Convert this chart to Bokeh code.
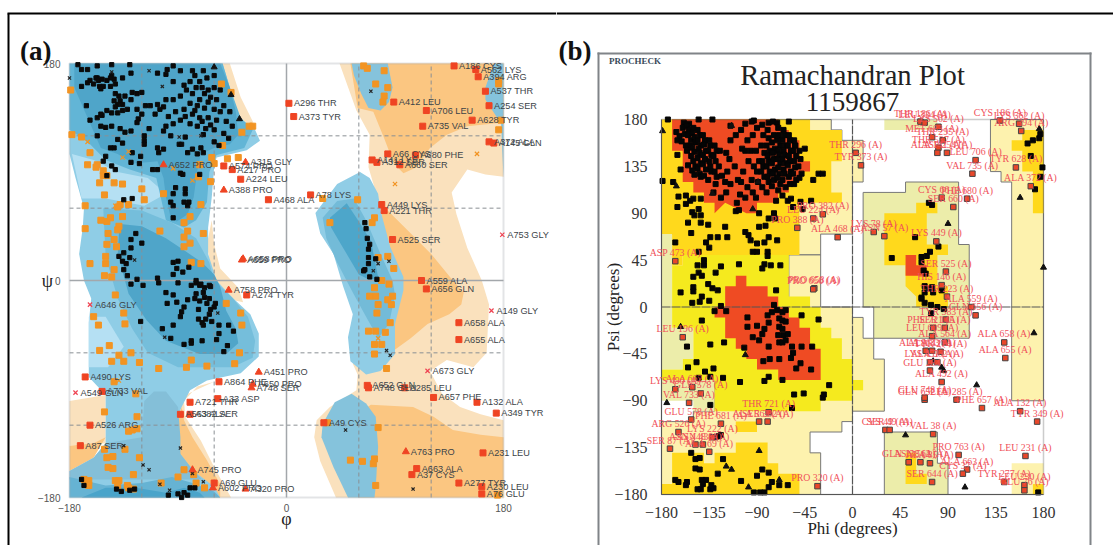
from bokeh.plotting import figure
from bokeh.layouts import row
from bokeh.models import ColumnDataSource, LabelSet, Label, BoxAnnotation, FixedTicker, LinearAxis
from bokeh.core.properties import value
from bokeh.embed import file_html
from bokeh.resources import INLINE

# ---------- PANEL (a): contour regions, phi/psi pairs ----------
A_TAN_LIGHT_RIGHT = [(44,180),(180,180),(180,86),(165,88),(150,92),(137,73),(141,55),(150,27),(162,0),(168,-20),(166,-60),(155,-72),(133,-66),(119,-75),(129,-94),(144,-105),(161,-111),(180,-116),(180,-180),(41,-180),(28,-150),(23,-130),(25,-116),(36,-105),(58,-91),(59,-78),(55,-69),(58,-60),(70,0),(78,60),(68,94),(69,121),(58,141)]
A_TAN_DARK_TOP = [(53,180),(180,180),(180,131),(170,130),(150,128),(133,121),(119,110),(108,94),(97,89),(89,97),(81,118),(72,140),(59,143)]
A_TAN_DARK_MID = [(80,62),(100,42),(120,22),(138,0),(147,-10),(145,-20),(135,-28),(117,-36),(103,-48),(89,-58),(75,-40),(75,20)]
A_TAN_DARK_LOW = [(70,-103),(105,-105),(122,-113),(138,-124),(161,-128),(180,-130),(180,-180),(60,-180),(60,-110)]
A_TAN_TONGUE = [(-55,180),(-47,180),(-38,152),(-27,130),(-40,125),(-50,150)]
A_TAN_STRIP = [(-66,30),(-62,50),(-60,30),(-55,10),(-40,-6),(-36,-18),(-50,-15),(-63,10)]
A_TAN_LEFT_LIGHT = [(-180,-100),(-150,-95),(-150,-135),(-180,-137)]
A_TAN_LEFT_DARK = [(-180,-137),(-160,-135),(-150,-130),(-160,-147),(-180,-158)]
A_TAN_BOTTOM_LIGHT = [(-60,-84),(-74,-88),(-85,-100),(-84,-113),(-71,-133),(-60,-155),(-46,-180),(-60,-180),(-90,-140),(-95,-100)]
A_TAN_BOTTOM_DARK = [(-87,-105),(-85,-116),(-78,-130),(-66,-149),(-55,-169),(-55,-180),(-70,-180),(-95,-140)]
A_BLUE_ENVELOPE = [(-180,180),(-53,180),(-47,160),(-40,135),(-27,127),(-22,116),(-33,108),(-58,102),(-60,94),(-62,69),(-65,44),(-65,22),(-58,0),(-45,-14),(-30,-28),(-23,-44),(-23,-63),(-38,-77),(-66,-83),(-80,-91),(-87,-105),(-94,-122),(-88,-144),(-77,-158),(-60,-171),(-55,-180),(-180,-180),(-180,-158),(-160,-147),(-150,-135),(-150,-95),(-164,-80),(-164,-35),(-162,-15),(-168,0),(-172,22),(-169,44),(-168,60),(-175,85),(-180,105)]
A_BLUE_PALE_TOP = [(-178,105),(-160,100),(-140,90),(-115,85),(-100,72),(-118,62),(-150,68),(-170,68)]
A_BLUE_PALE_LOW = [(-164,-30),(-150,-30),(-135,-55),(-148,-72),(-164,-72)]
A_BLUE_GREY = [(-118,-100),(-110,-92),(-100,-92),(-90,-105),(-88,-130),(-88,-144),(-77,-158),(-70,-165),(-180,-165),(-180,-158),(-160,-147),(-150,-135),(-120,-130)]
A_BLUE_RING_TOP = [(-180,180),(-53,180),(-47,160),(-38,135),(-28,125),(-35,110),(-58,104),(-64,90),(-66,65),(-75,50),(-85,44),(-100,50),(-108,85),(-130,92),(-150,100),(-165,115),(-180,125)]
A_BLUE_CORE_TOP = [(-176,180),(-55,180),(-47,160),(-42,140),(-40,121),(-47,113),(-60,110),(-71,105),(-74,91),(-77,69),(-82,55),(-91,49),(-96,52),(-100,69),(-102,85),(-107,99),(-127,97),(-140,105),(-154,110),(-165,135),(-176,160)]
A_BLUE_RING_MID = [(-152,60),(-120,58),(-95,48),(-75,35),(-64,15),(-60,0),(-45,-14),(-32,-30),(-26,-50),(-28,-64),(-45,-72),(-90,-72),(-115,-60),(-128,-40),(-140,-15),(-150,20)]
A_BLUE_CORE_MID = [(-140,47),(-120,45),(-100,35),(-85,25),(-70,15),(-60,5),(-55,-5),(-50,-25),(-42,-40),(-40,-52),(-50,-61),(-72,-61),(-100,-50),(-116,-33),(-131,-11),(-140,22),(-139,39)]
A_BLUE_BOTTOM_RING = [(-180,-163),(-150,-170),(-120,-168),(-95,-163),(-78,-168),(-60,-175),(-55,-180),(-180,-180)]
A_BLUE_BOTTOM_CORE = [(-170,-180),(-150,-172),(-125,-172),(-100,-176),(-85,-172),(-72,-176),(-68,-180)]
A_RBLUE_TOP = [(54,180),(84,180),(88,160),(85,148),(78,141),(68,143),(62,155),(56,170)]
A_RBLUE_STRIP = [(172,180),(180,180),(180,85),(178,130),(165,150),(165,160)]
A_RBLUE_LOBE = [(24,56),(42,80),(61,90),(69,85),(76,72),(78,58),(86,28),(97,3),(97,-8),(90,-36),(90,-61),(78,-75),(66,-78),(53,-67),(51,-47),(55,-28),(47,-5),(39,22),(28,39)]
A_RBLUE_LOBE_RING = [(30,52),(42,66),(56,68),(66,50),(78,22),(88,0),(90,-12),(85,-36),(76,-48),(66,-30),(55,-10),(42,15),(33,35)]
A_RBLUE_LOBE_CORE = [(36,52),(50,64),(60,49),(70,33),(76,3),(70,0),(60,5),(47,27),(37,44)]
A_RBLUE_LOW = [(30,-119),(40,-101),(54,-94),(66,-102),(74,-113),(76,-138),(74,-171),(73,-180),(51,-180),(39,-155),(29,-130)]

A_BLACK = [(-173,179),(-170,175),(-165,175),(-157,178),(-145,179),(-130,179),(-157,168),(-145,170),(-129,172),(-136,168),(-165,164),(-163,166),(-158,168),(-156,166),(-153,167),(-149,166),(-146,168),(-143,167),(-160,163),(-155,161),(-152,161),(-146,161),(-142,163),(-170,161),(-166,145),(-154,159),(-128,156),(-124,155),(-120,156),(-142,155),(-139,153),(-134,153),(-129,150),(-138,149),(-143,149),(-140,146),(-136,146),(-142,144),(-145,139),(-149,141),(-153,137),(-157,135),(-154,138),(-163,133),(-140,139),(-136,141),(-132,142),(-124,142),(-120,138),(-123,134),(-117,145),(-113,145),(-107,146),(-102,144),(-105,142),(-109,138),
(-154,128),(-150,127),(-145,128),(-138,126),(-134,123),(-129,124),(-124,131),(-114,126),(-118,120),(-118,116),(-118,113),(-140,117),(-136,114),(-146,110),(-143,110),(-128,106),(-121,103),(-150,103),(-152,99),(-145,95),(-142,92),(-129,98),(-122,97),(-157,120),(-107,110),(-102,109),(-106,106),(-102,124),(-96,120),(-89,113),(-87,113),(-82,106),(-78,109),(-71,110),(-69,106),(-74,105),(-60,115),(-69,121),(-56,112),(-84,119),
(-99,175),(-94,178),(-100,171),(-107,172),(-88,174),(-78,174),(-69,174),(-66,168),(-60,170),(-80,165),(-72,165),(-94,165),(-85,162),(-75,160),(-60,160),(-55,158),(-65,158),(-68,155),(-78,155),(-88,153),(-94,150),(-100,150),(-72,150),(-65,148),(-58,150),(-80,147),(-74,145),(-68,143),(-60,142),(-52,145),(-47,140),(-85,142),(-92,140),(-98,136),(-78,138),(-72,135),(-65,135),(-58,133),(-50,132),(-45,128),(-88,133),(-80,130),(-74,128),(-67,126),(-60,125),(-52,122),(-48,118),(-94,130),(-100,128),(-76,170),(-83,158),(-70,160),(-63,152),(-76,141),(-70,132),(-63,129),(-84,136),(-55,140),
(65,48),(66,43),(67,35),(69,30),(68,26),(68,19),(68,14),(74,18),(65,9),(64,8),(69,3),(75,1),
(-129,-3),(-119,-4),(-106,-2),(-90,-2),(-100,-10),(-94,-12),(-99,-19),(-91,-18),(-85,-22),(-82,-16),(-87,-26),(-88,-30),(-94,-37),(-103,-40),(-96,-48),(-85,-53),(-79,-50),(-79,-52),(-70,-50),(-58,-49),(-49,-54),(-52,-59),(-56,-44),(-56,-37),(-48,-37),(-44,-42),(-121,-34),(-79,-4),(-75,-2),(-72,-4),(-68,-6),(-63,-5),(-75,-11),(-76,-15),(-72,-17),(-68,-14),(-64,-15),(-69,-10),(-66,-19),(-59,-19),(-60,-22),(-63,-24),(-73,-24),(-64,-28),(-73,-32),(-70,-35),(-67,-32),(-62,-34),(-69,-37),
(-129,34),(-125,39),(-129,27),(-120,31),(-135,23),(-139,20),(-130,19),(-136,16),(-133,14),(-135,9),(-132,4),(-124,1),(-107,2),(-94,15),(-90,16),(-91,10),(-86,7),(-81,11),(-94,5),(-75,0),(-71,-3),(-64,-4),
(-135,67),(-128,68),(-111,92),(-107,92),(-88,89),(-86,88),(-92,77),(-84,76),(-84,72),(-94,72),(-96,65),(-94,62),(-85,65),(-81,65),(-82,62),(-94,52),(-72,88),(-149,87),
(-170,-165),(-168,-170),(-141,-173),(-137,-175),(-130,-174),(-126,-173),(-98,-178),(-90,-177),(-85,-176),(-87,-180),(-82,-178),(-80,-172),(-76,-172)]
A_ORANGE = [(-179,158),(-54,163),(-46,156),(-178,121),(-170,119),(-37,123),(-31,128),(-28,128),(-163,106),(-165,96),(-157,96),(-158,94),(-152,91),(-152,87),(-149,87),(-155,81),(-143,81),(-136,80),(-120,76),(-151,71),(-118,67),(-102,72),(-167,62),(-138,63),(-140,61),(-131,63),(-136,53),(-154,50),(-149,49),(-146,52),(-139,45),(-140,42),(-167,43),(-148,39),(-143,34),(-149,30),(-141,28),(-150,20),(-163,14),(-150,14),(-143,9),(-151,4),(-145,3),(-85,48),(-80,53),(-105,41),(-82,41),(-85,36),(-69,39),(-80,31),(-85,28),(-79,15),(-71,14),(-71,63),(-63,82),(-73,86),(-72,96),(-60,97),(-62,102),(-49,101),(-40,102),(-53,112),
(-142,-12),(-160,-30),(-156,-37),(-135,-27),(-134,-36),(-155,-58),(-147,-54),(-139,-62),(-129,-60),(-145,-67),(-135,-67),(-122,-68),(-106,-73),(-83,-72),(-66,-71),(-79,-66),(-43,-69),(-39,-60),(-50,-19),(-38,-27),(-37,-37),(-125,-94),(-143,-84),(-151,-109),(-124,-113),(-131,-125),(-128,-124),(-124,-123),(-151,-140),(-149,-147),(-144,-146),(-148,-155),(-144,-156),(-134,-140),(-122,-147),(-127,-161),(-168,-165),(-164,-166),(-164,-170),(-142,-166),(-139,-166),(-140,-170),(-132,-170),(-127,-173),(-131,-172),(-90,-163),(-85,-157),(-77,-161),(-68,-172),(-75,-168),(-104,-168),
(64,178),(67,176),(81,174),(74,163),(84,160),(81,153),(80,148),(176,166),(176,163),(178,133),(176,125),(30,68),(59,67),(73,52),(71,48),(36,48),(76,19),(84,20),(89,10),(79,0),(85,-3),(73,-6),(69,-13),(74,-13),(88,-13),(84,-16),(87,-20),(76,-20),(75,-27),(86,-35),(68,-42),(74,-42),(82,-43),(73,-53),(79,-53),(73,-61),(83,-73),(76,-122),(34,-118),(53,-149),(63,-150),(73,-148),(72,-152),(74,-170),(175,-178)]
A_ORANGE_X = [(-165,115),(-131,107),(-136,102),(-94,93),(-78,83),(-142,62),(158,105),(90,80),(76,-48),(-139,-83)]
A_BLACK_X = [(-180,168),(-145,173),(-114,174),(-103,161),(-89,119),(-71,120),(-126,17),(70,157),(76,14),(85,16),(72,8),(-57,-27),(-101,-47),(-135,-137),(-88,-139),(-119,-153),(-114,-157),(-78,-160),(-69,-167),(-105,-169),(-97,-174),(49,-124),(83,-58),(86,-62),(105,-173)]
A_BLACK_TRI = [(-60,177),(-46,154),(-39,134)]
A_RED_SQ_NAMES = ["A186 CYS","A562 LYS","A394 ARG","A537 THR","A254 SER","A628 TYR","A735 VAL","A706 LEU","A412 LEU","A296 THR","A373 TYR","A372 ALA","A145 GLN","A66 CYS","A680 PHE","A141 LYS","A312 SER","A660 SER","A78 LYS","A449 LYS","A221 THR","A525 SER","A559 ALA","A656 GLN","A658 ALA","A655 ALA","A652 GLN","A748 GLU","A285 LEU","A657 PHE","A132 ALA","A349 TYR","A49 CYS","A231 LEU","A663 ALA","A37 CYS","A277 TYR","A230 LEU","A76 GLU","A574 PRO","A217 PRO","A224 LEU","A468 ALA","A274 TYR","A864 PHE","A33 ASP","A721 THR","A563 ALA","A382 SER","A490 LYS","A733 VAL","A526 ARG","A87 SER","A69 GLU"]
A_RED_SQ = [(139,178),(157,175),(159,169),(165,157),(168,145),(154,133),(113,128),(116,141),(89,148),(2,147),(6,136),(168,115),(172,114),(84,105),(107,104),(71,100),(75,98),(94,96),(20,71),(79,63),(81,58),(88,34),(112,0),(116,-7),(143,-35),(143,-49),(67,-87),(68,-89),(98,-89),(122,-97),(158,-101),(174,-110),(31,-118),(163,-143),(108,-156),(104,-161),(143,-168),(162,-171),(162,-177),(-52,95),(-45,92),(-38,84),(-15,67),(-33,-12),(-56,-84),(-57,-98),(-80,-101),(-88,-111),(-80,-111),(-167,-80),(-153,-92),(-163,-120),(-171,-137),(-60,-168)]
A_RED_TRI_NAMES = ["A652 PRO","A315 GLY","A388 PRO","A659 PRO","A658 PRO","A758 PRO","A451 PRO","A650 PRO","A748 SER","A745 PRO","A602 PRO","A320 PRO","A763 PRO"]
A_RED_TRI = [(-102,96),(-34,98),(-52,75),(-37,17),(-36,18),(-48,-8),(-23,-76),(-28,-86),(-29,-89),(-78,-157),(-61,-172),(-34,-173),(99,-142)]
A_RED_X_NAMES = ["A753 GLY","A149 GLY","A673 GLY","A646 GLY","A549 GLN"]
A_RED_X = [(179,38),(170,-25),(117,-75),(-163,-20),(-175,-93)]

# ---------- PANEL (b): region outlines ----------
B_CREAM_TOP = [(-40,180),(-20,180),(-20,170),(-10,170),(-10,160),(10,160),(10,120),(0,120),(0,70),(-30,70),(-30,50),(-60,50),(-60,70),(-170,70),(-170,180)]
B_CREAM_RIGHT = [(130,180),(180,180),(180,-90),(150,-90),(150,120),(140,120),(140,130),(130,130)]
B_CREAM_BR = [(150,-150),(180,-150),(180,-180),(150,-180)]
B_CREAM_LEFT = [(-180,70),(-170,70),(-170,-20),(-150,-20),(-150,-50),(-160,-50),(-160,-60),(-180,-60)]
B_CREAM_ALPHA = [(-60,50),(-30,50),(-30,0),(0,0),(0,-10),(10,-10),(10,-30),(20,-30),(20,-50),(30,-50),(30,-100),(0,-100),(0,-110),(-10,-110),(-10,-120),(-40,-120),(-40,-140),(-30,-140),(-30,-180),(-180,-180),(-180,-110),(-150,-110),(-150,-100),(-130,-100),(-130,-60),(-60,0)]
B_CREAM_NOTCH = [(-180,-70),(-130,-70),(-130,-100),(-150,-100),(-150,-90),(-180,-90)]
B_CREAM_L = [(10,110),(50,110),(50,120),(100,120),(100,60),(110,60),(110,-30),(20,-30),(20,0),(10,0)]
B_CREAM_P = [(30,-120),(80,-120),(80,-150),(90,-150),(90,-180),(30,-180)]
B_CREAM_TOPL = [(30,180),(80,180),(80,170),(30,170)]
B_GOLD_TOP = [(-180,180),(-40,180),(-40,170),(-10,170),(-10,140),(-20,140),(-20,110),(-10,110),(-10,100),(-50,100),(-50,50),(-160,50),(-160,40),(-170,40),(-170,70),(-180,70)]
B_YELLOW = [(-30,0),(-30,-20),(-20,-20),(-20,-30),(-10,-30),(-10,-50),(0,-50),(0,-70),(10,-70),(10,-80),(0,-80),(0,-90),(-30,-90),(-30,-100),(-130,-100),(-130,-70),(-180,-70),(-180,-60),(-160,-60),(-160,-50),(-150,-50),(-150,-20),(-170,-20),(-170,40),(-160,40),(-160,50),(-60,50),(-60,10),(-40,10),(-40,0)]
B_GOLD_LOW = [(-170,-140),(-140,-140),(-140,-150),(-130,-150),(-130,-140),(-110,-140),(-110,-130),(-80,-130),(-80,-150),(-70,-150),(-70,-160),(-50,-160),(-50,-180),(-180,-180),(-180,-170),(-170,-170)]
B_GOLD_SMALL = [(-110,-110),(-90,-110),(-90,-120),(-110,-120)]
B_GOLD_L = [(30,90),(60,90),(60,100),(80,100),(80,90),(70,90),(70,60),(90,60),(90,50),(80,50),(80,20),(90,20),(90,0),(60,0),(60,10),(50,20),(50,40),(30,40)]
B_GOLD_P = [(50,-140),(60,-140),(60,-160),(70,-160),(70,-170),(50,-170)]
B_GOLD_RIGHT = [(160,170),(180,170),(180,90),(170,90),(170,130),(160,130),(160,150),(150,150),(150,160),(160,160)]
B_GOLD_BR = [(170,-170),(180,-170),(180,-180),(170,-180)]
B_RED_TOP = [(-170,180),(-70,180),(-70,170),(-60,170),(-60,160),(-50,160),(-50,140),(-40,140),(-40,130),(-50,130),(-50,120),(-60,120),(-60,110),(-70,110),(-70,100),(-90,100),(-90,90),(-100,90),(-120,100),(-130,90),(-130,100),(-140,100),(-140,110),(-150,110),(-150,120),(-160,120),(-160,150),(-170,150)]
B_RED_A = [(-120,20),(-110,20),(-110,30),(-100,30),(-100,20),(-80,20),(-80,10),(-70,10),(-70,0),(-60,0),(-60,-10),(-50,-10),(-50,-20),(-40,-20),(-40,-40),(-30,-40),(-30,-70),(-70,-70),(-70,-60),(-90,-60),(-90,-50),(-100,-50),(-100,-40),(-110,-40),(-110,-30),(-120,-30),(-120,-10),(-130,-10),(-130,0),(-120,0)]
B_RED_L = [(50,30),(70,30),(70,40),(60,40),(60,50),(50,50)]

B_BLACK = [(-174,180),(-159,177),(-154,176),(-145,180),(-132,180),(-115,174),(-101,176),(-93,179),(-79,177),(-71,177),(-60,178),
(-166,168),(-163,164),(-165,160),(-160,172),(-158,166),(-161,159),(-157,155),(-156,174),(-154,170),(-155,165),(-152,160),(-153,155),(-156,150),(-155,136),
(-150,172),(-151,167),(-149,163),(-148,158),(-151,153),(-149,149),(-152,145),(-150,140),(-148,135),(-151,131),(-149,127),
(-146,170),(-144,165),(-146,160),(-143,155),(-145,152),(-144,148),(-146,143),(-143,138),(-146,133),(-144,128),(-143,125),
(-141,165),(-139,160),(-140,156),(-138,150),(-141,146),(-139,142),(-141,137),(-138,132),(-140,126),
(-135,160),(-134,155),(-136,150),(-133,146),(-135,140),(-134,135),(-133,130),(-136,122),
(-130,155),(-128,150),(-131,145),(-129,140),(-130,130),(-128,125),(-129,118),(-131,110),
(-125,150),(-126,135),(-123,126),(-124,105),
(-119,148),(-118,130),(-120,120),(-119,110),
(-115,160),(-116,142),(-115,118),
(-110,165),(-111,135),(-108,122),(-109,100),
(-105,170),(-104,152),(-103,130),(-105,120),(-106,108),
(-99,160),(-101,150),(-98,140),(-99,115),(-101,105),
(-95,178),(-94,165),(-96,150),(-93,135),(-95,122),(-94,110),
(-90,172),(-91,150),(-88,140),(-90,130),(-89,120),(-91,105),
(-85,175),(-84,165),(-86,155),(-83,148),(-85,140),(-84,135),(-86,130),(-83,125),(-85,115),
(-80,170),(-79,162),(-81,155),(-78,150),(-80,145),(-79,140),(-81,135),(-78,130),(-80,125),(-79,120),(-81,110),
(-75,178),(-74,165),(-76,158),(-73,152),(-75,148),(-74,142),(-76,138),(-73,132),(-75,128),(-74,122),(-76,116),
(-70,172),(-69,165),(-71,160),(-68,155),(-70,150),(-69,146),(-71,142),(-68,138),(-70,134),(-69,128),(-71,124),(-68,118),(-70,112),
(-65,170),(-64,165),(-66,160),(-63,155),(-65,150),(-64,146),(-66,142),(-63,138),(-65,132),(-64,128),(-66,122),(-63,115),
(-60,165),(-59,160),(-61,155),(-58,150),(-60,145),(-59,140),(-61,136),(-58,130),(-60,125),(-59,118),
(-55,160),(-54,155),(-56,150),(-53,145),(-55,140),(-54,134),(-56,128),(-53,122),(-55,118),
(-50,150),(-49,142),(-51,135),(-48,128),(-50,124),
(-167,62),(-165,146),(-179,121),(-169,120),(-162,132),(-164,106),(-157,107),(-165,96),(-157,99),(-153,102),(-150,104),(-143,104),(-145,94),(-151,91),(-149,88),(-143,88),(-155,81),(-143,81),(-136,79),(-152,71),(-120,77),(-110,92),(-107,93),(-88,90),(-79,85),(-74,90),(-73,85),(-88,77),(-82,78),(-101,72),(-98,69),(-96,64),(-90,61),(-83,62),(-79,67),(-71,64),(-134,67),(-138,62),(-127,67),(-118,67),(-90,53),(-80,53),(-94,53),(-145,53),(-135,57),(-140,45),(-140,40),(-80,49),(-83,41),(-85,37),(-77,40),(-68,40),(-146,40),(-145,33),(-142,30),(-129,33),(-124,39),(-150,29),(-107,41),(-136,22),(-132,18),(-127,16),(-150,19),(-150,15),(-72,16),(-61,102),(-49,101),(-39,102),(-32,128),(-28,128),(-37,122),(-45,152),(-54,155),(-58,104),(-56,96),(-47,94),(-66,107),(-72,102),
(165,157),(170,160),(176,162),(177,166),(168,145),(179,134),(177,125),(172,113),(72,100),(75,98),(37,47),(59,67),(81,58),(73,53),(70,49),(65,48),(65,43),(67,35),(69,32),(68,20),(68,14),(75,19),(76,14),(84,16),(65,8),(65,9),(68,4),(74,2),(80,0),(86,-2),(74,-6),(175,-178),(53,-149),
(-142,-13),(-156,-38),(-134,-36),(-121,-34),(-147,-53),(-155,-58),(-139,-62),(-131,-59),(-134,-67),(-122,-68),(-145,-68),(-106,-72),(-83,-71),(-79,-67),(-66,-70),(-55,-84),(-46,-83),(-28,-87),(-27,-84),(-22,-75),(-134,-94),(-57,-97),(-124,-123),(-129,-125),(-126,-124),(-152,-140),(-148,-146),(-144,-145),(-148,-155),(-144,-156),(-122,-146),(-127,-160),(-167,-166),(-164,-168),(-156,-168),(-157,-171),(-142,-166),(-138,-166),(-141,-170),(-146,-175),(-143,-175),(-134,-175),(-131,-174),(-133,-171),(-105,-167),(-90,-162),(-85,-156),(-79,-159),(-93,-178),(-87,-178),(-83,-178),(-79,-173),(-76,-168),(-69,-171),(-61,-171),(-162,14),(-151,4),(-144,5),(-142,10),(-135,6),(-130,-4),(-124,1),(-119,-4),
(-99,-10),(-99,-19),(-90,-18),(-94,-29),(-85,-26),(-88,-32),(-83,-21),(-79,-15),(-74,2),(-71,-3),(-66,-5),(-63,-3),(-69,-11),(-66,-13),(-63,-14),(-69,-19),(-66,-21),(-70,-27),(-65,-27),(-61,-26),(-69,-34),(-66,-34),(-63,-32),(-76,-5),(-80,-8),(-48,-8),(-32,-12),(-57,-38),(-48,-38),(-38,-38),(-56,-44),(-79,-38),(-102,-39),(-84,-52),(-78,-50),(-69,-50),(-58,-49),(-49,-54),(-53,-59),(-39,-60)]
B_TRI = [(-162,-19),(-175,-92),(-101,-46),(-88,-138),(-119,-153),(-114,-156),(-98,-173),(-69,-166),(-179,169),(-166,116),(-114,174),(-89,120),(-132,109),(-94,94),(176,171),(90,80),(158,105),(180,38),(72,17),(171,-25),(84,-58),(86,-61),(117,-75),(50,-123),(106,-173),(76,-52)]
B_RED_NAMES = ["ASP 473 (A)","LEU 224 (A)","PRO 382 (A)","PRO 388 (A)","ALA 468 (A)","PRO 658 (A)","PRO 650 (A)","THR 296 (A)","TYR 373 (A)","THR 186 (A)","LEU 334 (A)","LYS 562 (A)","MET 683 (A)","THR 295 (A)","THR 537 (A)","ALA 141 (A)","ASP 254 (A)","CYS 186 (A)","LYS 562 (A)","ARG 394 (A)","LEU 706 (A)","VAL 735 (A)","TYR 628 (A)","ALA 372 (A)","CYS 66 (A)","PHE 680 (A)","SER 660 (A)","LYS 78 (A)","ASN 57 (A)","LYS 449 (A)","SER 525 (A)","HIS 146 (A)","THR 223 (A)","ALA 559 (A)","GLN 656 (A)","ALA 658 (A)","ALA 655 (A)","TYR 383 (A)","SER 145 (A)","PHE 721 (A)","LEU 609 (A)","ALA 564 (A)","ALA 864 (A)","ALA 33 (A)","TYR 274 (A)","LYS 451 (A)","ALA 562 (A)","GLU 284 (A)","ALA 492 (A)","GLN 652 (A)","GLU 748 (A)","LEU 285 (A)","PHE 657 (A)","ALA 132 (A)","TYR 349 (A)","CYS 49 (A)","SER 49 (A)","VAL 38 (A)","PRO 763 (A)","LEU 231 (A)","ALA 663 (A)","CYS 37 (A)","SER 644 (A)","TYR 277 (A)","LEU 230 (A)","GLU 76 (A)","GLN 138 (A)","ASN 562 (A)","ALA 85 (A)","LEU 196 (A)","ALA 662 (A)","LYS 490 (A)","GLN 578 (A)","VAL 733 (A)","THR 721 (A)","ALA 563 (A)","SER 382 (A)","GLU 578 (A)","PHE 681 (A)","ARG 526 (A)","LYS 222 (A)","SER 87 (A)","ASN 448 (A)","ASN 438 (A)","ALA 69 (A)","PRO 320 (A)"]
B_RED = [(-167,44),(-37,85),(-28,89),(-52,76),(-14,67),(-36,18),(-37,17),(3,148),(8,136),(64,178),(68,177),(81,173),(75,163),(85,160),(81,153),(80,148),(89,148),(139,179),(157,176),(159,169),(116,141),(113,128),(154,134),(168,116),(84,105),(108,104),(95,96),(20,72),(30,68),(79,63),(88,34),(84,21),(89,10),(112,0),(116,-8),(143,-34),(144,-49),(88,-12),(87,-20),(76,-20),(75,-28),(87,-34),(69,-42),(75,-42),(83,-43),(73,-53),(80,-53),(73,-61),(84,-72),(68,-89),(68,-87),(98,-89),(122,-97),(158,-100),(174,-110),(31,-118),(35,-118),(76,-122),(100,-142),(163,-143),(108,-156),(104,-160),(75,-168),(143,-168),(162,-171),(162,-176),(53,-149),(64,-149),(73,-150),(-160,-29),(-151,-77),(-167,-79),(-143,-83),(-154,-92),(-79,-101),(-88,-110),(-80,-110),(-152,-108),(-124,-112),(-164,-120),(-132,-125),(-172,-136),(-148,-132),(-141,-132),(-135,-139),(-33,-172)]
A_TICKS = [-180, 0, 180]
A_GRID = [-120, -60, 60, 120]
ZERO_LINE = [0]
B_TICKS = [-180, -135, -90, -45, 0, 45, 90, 135, 180]

SANS = "Liberation Sans"
SERIF = "Liberation Serif"
W_A, W_B, H = 556, 557, 545

def xs(points): return [q[0] for q in points]
def ys(points): return [q[1] for q in points]

def ranges(left, right, top, bottom, w):
    """Data ranges so that -180..180 falls on the wanted pixels of a full-canvas frame."""
    sx = 360 / (right - left)
    sy = 360 / (bottom - top)
    return (-180 - left * sx, 180 + (w - right) * sx), (-180 - (H - bottom) * sy, 180 + top * sy)

def make_fig(w, left, right, top, bottom):
    xr, yr = ranges(left, right, top, bottom, w)
    p = figure(width=w, height=H, x_range=xr, y_range=yr, output_backend="svg", toolbar_location=None,
               x_axis_type=None, y_axis_type=None, min_border=0,
               min_border_left=0, min_border_right=0, min_border_top=0, min_border_bottom=0)
    p.outline_line_color = None
    p.grid.visible = False
    return p

def style_axis(ax, ticks, font, size, color, lab_size, lab_color, standoff):
    ax.ticker = FixedTicker(ticks=ticks)
    ax.bounds = (-180, 180)
    ax.major_label_text_font = font
    ax.major_label_text_font_size = size
    ax.major_label_text_color = color
    ax.major_tick_line_color = None
    ax.minor_tick_line_color = None
    ax.axis_label_text_font = SERIF
    ax.axis_label_text_font_style = "normal"
    ax.axis_label_text_font_size = lab_size
    ax.axis_label_text_color = lab_color
    ax.major_label_standoff = standoff

def canvas_box(p, l, r, t, b_, col):
    p.add_layout(BoxAnnotation(left=l, right=r, top=t, bottom=b_, left_units="canvas", right_units="canvas",
                               top_units="canvas", bottom_units="canvas", fill_color=col, fill_alpha=1,
                               line_color=None, level="underlay"))

def cross_lines(p, ticks, **kw):
    low = [-180] * len(ticks)
    high = [180] * len(ticks)
    p.segment(ticks, low, ticks, high, level="underlay", **kw)
    p.segment(low, ticks, high, ticks, level="underlay", **kw)

# ---------- figure a ----------
a = make_fig(W_A, 69, 503, 63, 497)
for poly, col in [
    (A_TAN_LIGHT_RIGHT, "#fae1bd"), (A_TAN_DARK_TOP, "#fbc681"), (A_TAN_DARK_MID, "#fbc681"), (A_TAN_DARK_LOW, "#fbc681"),
    (A_TAN_TONGUE, "#fae1bd"), (A_TAN_STRIP, "#fae1bd"), (A_TAN_LEFT_LIGHT, "#fae1bd"), (A_TAN_LEFT_DARK, "#fbc681"),
    (A_TAN_BOTTOM_LIGHT, "#fae1bd"), (A_TAN_BOTTOM_DARK, "#fbc681"),
    (A_BLUE_ENVELOPE, "#8fcde6"), (A_BLUE_PALE_TOP, "#b5e0f3"), (A_BLUE_PALE_LOW, "#b5e0f3"), (A_BLUE_GREY, "#84bfd8"),
    (A_BLUE_RING_TOP, "#62b5d6"), (A_BLUE_CORE_TOP, "#4fa5c9"), (A_BLUE_RING_MID, "#75bedb"), (A_BLUE_CORE_MID, "#4fa5c9"),
    (A_BLUE_BOTTOM_RING, "#66b3d3"), (A_BLUE_BOTTOM_CORE, "#4aa4ca"),
    (A_RBLUE_TOP, "#85c3dc"), (A_RBLUE_STRIP, "#85c3dc"), (A_RBLUE_LOBE, "#90cde6"), (A_RBLUE_LOBE_RING, "#73bbd8"),
    (A_RBLUE_LOBE_CORE, "#4da6ca"), (A_RBLUE_LOW, "#85c3dc")]:
    a.patch(xs(poly), ys(poly), fill_color=col, line_color=None, level="image")
xa = LinearAxis(fixed_location=-180, axis_label="φ", axis_line_color=None)
ya = LinearAxis(fixed_location=-180, axis_label="ψ", axis_line_color=None, axis_label_orientation="horizontal")
a.add_layout(xa, "below")
a.add_layout(ya, "left")
style_axis(xa, A_TICKS, SANS, "10px", "#555555", "18px", "#222222", 0)
style_axis(ya, A_TICKS, SANS, "10px", "#555555", "18px", "#222222", 3)
xa.axis_label_standoff = -6
ya.axis_label_standoff = -18
cross_lines(a, A_GRID, line_color="#8a8f94", line_dash="4 3", line_width=1)
cross_lines(a, ZERO_LINE, line_color="#a3a7ab", line_width=1.5)
a.add_layout(BoxAnnotation(left=-180, right=180, top=180, bottom=-180, fill_alpha=0, line_color="#a3a7ab",
                           line_width=2, level="underlay"))
a.scatter(xs(A_ORANGE), ys(A_ORANGE), marker="square", size=6, color="#f29423")
a.scatter(xs(A_BLACK), ys(A_BLACK), marker="square", size=4.2, color="#0a0a0a")
a.scatter(xs(A_ORANGE_X), ys(A_ORANGE_X), marker="x", size=6, line_color="#f29423", line_width=1.2)
a.scatter(xs(A_BLACK_X), ys(A_BLACK_X), marker="x", size=4.5, line_color="#222222", line_width=1.2)
a.scatter(xs(A_BLACK_TRI), ys(A_BLACK_TRI), marker="triangle", size=6, color="#111111")
a.scatter(xs(A_RED_SQ), ys(A_RED_SQ), marker="square", size=6, color="#ef4423")
a.scatter(xs(A_RED_TRI), ys(A_RED_TRI), marker="triangle", size=7, color="#ef4423")
a.scatter(xs(A_RED_X), ys(A_RED_X), marker="x", size=6, line_color="#ef4453", line_width=1.2)
src_a = ColumnDataSource(dict(
    x=xs(A_RED_SQ) + xs(A_RED_TRI) + xs(A_RED_X),
    y=ys(A_RED_SQ) + ys(A_RED_TRI) + ys(A_RED_X),
    t=A_RED_SQ_NAMES + A_RED_TRI_NAMES + A_RED_X_NAMES))
a.add_layout(LabelSet(x="x", y="y", text="t", source=src_a, x_offset=5, y_offset=0,
                      text_font=value(SANS), text_font_size=value("9.2px"), text_color=value("#3c4448"),
                      text_baseline="middle", text_align="left"))
a.add_layout(Label(x=-221, y=190, text="(a)", text_font=SERIF, text_font_size="27px", text_font_style="bold",
                   text_color="#111111", text_baseline="middle"))
canvas_box(a, 7, 9, 13, 545, "#000000")
canvas_box(a, 7, 556, 12, 14, "#000000")

# ---------- figure b ----------
b = make_fig(W_B, 105, 487, 119, 494)
CREAM = "#fdf2ae"
PALE = "#ecedaa"
GOLD = "#ffd91c"
YEL = "#f5ea1e"
RED = "#ef4b23"
for poly, col, edge in [
    (B_CREAM_TOP, CREAM, "#777777"), (B_CREAM_RIGHT, CREAM, "#777777"), (B_CREAM_BR, CREAM, None),
    (B_CREAM_LEFT, PALE, None), (B_CREAM_ALPHA, CREAM, "#777777"), (B_CREAM_NOTCH, PALE, None),
    (B_CREAM_L, PALE, "#777777"), (B_CREAM_P, PALE, "#777777"), (B_CREAM_TOPL, PALE, None),
    (B_YELLOW, YEL, None), (B_GOLD_TOP, GOLD, None), (B_GOLD_LOW, GOLD, None), (B_GOLD_SMALL, GOLD, None),
    (B_GOLD_L, GOLD, None), (B_GOLD_P, GOLD, None), (B_GOLD_RIGHT, GOLD, None), (B_GOLD_BR, GOLD, None),
    (B_RED_TOP, RED, None), (B_RED_A, RED, None), (B_RED_L, RED, None)]:
    b.patch(xs(poly), ys(poly), fill_color=col, line_color=edge, line_width=1, level="image")
xb = LinearAxis(fixed_location=-180, axis_label="Phi (degrees)", axis_line_color="#555555")
yb = LinearAxis(fixed_location=-180, axis_label="Psi (degrees)", axis_line_color="#555555")
b.add_layout(xb, "below")
b.add_layout(yb, "left")
style_axis(xb, B_TICKS, SERIF, "16px", "#333333", "17px", "#222222", 6)
style_axis(yb, B_TICKS, SERIF, "16px", "#333333", "17px", "#222222", 8)
xb.axis_label_standoff = -2
yb.axis_label_standoff = -12
cross_lines(b, ZERO_LINE, line_color="#555555", line_width=1.2, line_dash="9 1")
b.add_layout(BoxAnnotation(left=-180, right=180, top=180, bottom=-180, fill_alpha=0, line_color="#555555",
                           line_width=1.5, level="underlay"))
b.scatter(xs(B_BLACK), ys(B_BLACK), marker="square", size=5, color="#050505")
b.scatter(xs(B_TRI), ys(B_TRI), marker="triangle", size=6, color="#111111")
b.scatter(xs(B_RED), ys(B_RED), marker="square", size=5.5, fill_color="#e9472a", line_color="#444444", line_width=1)
src_b = ColumnDataSource(dict(x=xs(B_RED), y=ys(B_RED), t=B_RED_NAMES))
b.add_layout(LabelSet(x="x", y="y", text="t", source=src_b, x_offset=0, y_offset=3,
                      text_font=value(SERIF), text_font_size=value("9.8px"), text_color=value("#f0505a"),
                      text_baseline="bottom", text_align="center"))
b.add_layout(Label(x=-277, y=246, text="(b)", text_font=SERIF, text_font_size="27px", text_font_style="bold",
                   text_color="#111111", text_baseline="middle"))
b.add_layout(Label(x=-205, y=236, text="PROCHECK", text_font=SERIF, text_font_size="9px", text_font_style="bold",
                   text_color="#3a4a5a", text_baseline="middle", text_align="center"))
b.add_layout(Label(x=0, y=222, text="Ramachandran Plot", text_font=SERIF, text_font_size="28.6px",
                   text_color="#222222", text_baseline="middle", text_align="center"))
b.add_layout(Label(x=0, y=197, text="1159867", text_font=SERIF, text_font_size="27px",
                   text_color="#222222", text_baseline="middle", text_align="center"))
canvas_box(b, 0, 557, 12, 14, "#000000")
canvas_box(b, 41, 43, 52, 545, "#808488")
canvas_box(b, 533, 535, 52, 545, "#808488")
canvas_box(b, 41, 535, 52, 54, "#808488")

open("out.html", "w").write(file_html(row(a, b, spacing=0), INLINE))
